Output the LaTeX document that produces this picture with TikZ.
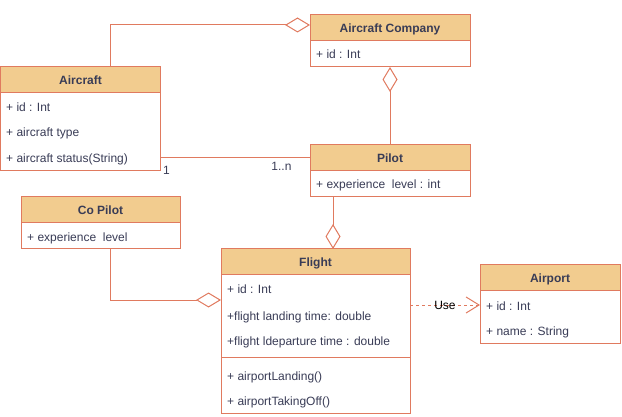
\documentclass[tikz,border=0pt]{standalone}
\usepackage{fontspec}
\setmainfont{Liberation Sans}
\usetikzlibrary{arrows.meta, positioning}
\definecolor{umlline}{HTML}{E07A5F}
\definecolor{umlfill}{HTML}{F2CC8F}
\definecolor{umltext}{HTML}{393C56}
\tikzset{
  clshead/.style={rectangle, draw=umlline, fill=umlfill, line width=1pt,
    outer sep=0pt, inner sep=0pt, minimum height=26pt, anchor=north west,
    text height=10pt, text depth=0pt, text=umltext,
    font=\fontsize{12}{14}\selectfont\bfseries},
  clsbody/.style={rectangle, draw=umlline, fill=white, line width=1pt,
    outer sep=0pt, inner sep=0pt},
  attr/.style={anchor=west, inner sep=0pt, text height=10pt, text depth=0pt,
    text=umltext, font=\fontsize{12}{14}\selectfont},
  link/.style={draw=umlline, line width=1pt},
  aggr/.style={link, -{Diamond[open, length=25pt, width=15pt]}},
  usedep/.style={link, dash pattern=on 3pt off 3pt,
    -{Straight Barb[length=13pt, width=16pt]}},
  mult/.style={inner sep=0pt, text=umltext, font=\fontsize{12}{14}\selectfont}
}

\begin{document}
\begin{tikzpicture}[x=1pt, y=-1pt]
  \useasboundingbox (0,0) rectangle (622,417);

  % classes
  \node[clshead, minimum width=160pt] (air) at (0.5,67) {Aircraft};
  \node[clsbody, minimum width=160pt, minimum height=78pt, below=0pt of air] (airb) {};
  \node[attr] (air1) at (6,107) {+ id : Int};
  \node[attr] (air2) at (6,132) {+ aircraft type};
  \node[attr] (air3) at (6,158) {+ aircraft status(String)};

  \node[clshead, minimum width=160pt] (co) at (310,15) {Aircraft Company};
  \node[clsbody, minimum width=160pt, minimum height=26pt, below=0pt of co] (cob) {};
  \node[attr] (co1) at (316,54) {+ id : Int};

  \node[clshead, minimum width=160pt] (pil) at (310,145) {Pilot};
  \node[clsbody, minimum width=160pt, minimum height=26pt, below=0pt of pil] (pilb) {};
  \node[attr] (pil1) at (316,184) {+ experience\ \ level : int};

  \node[clshead, minimum width=159pt] (cp) at (21,197) {Co Pilot};
  \node[clsbody, minimum width=159pt, minimum height=26pt, below=0pt of cp] (cpb) {};
  \node[attr] (cp1) at (27,237) {+ experience\ \ level};

  \node[clshead, minimum width=189pt] (fl) at (221,249) {Flight};
  \node[clsbody, minimum width=189pt, minimum height=82pt, below=0pt of fl] (flb) {};
  \node[clsbody, minimum width=189pt, minimum height=56pt, below=0pt of flb] (flm) {};
  \node[attr] (fl1) at (227,289) {+ id : Int};
  \node[attr] (fl2) at (227,315) {+flight landing time: double};
  \node[attr] (fl3) at (227,340) {+flight ldeparture time : double};
  \node[attr] (fl4) at (227,375) {+ airportLanding()};
  \node[attr] (fl5) at (227,400) {+ airportTakingOff()};

  \node[clshead, minimum width=140pt] (ap) at (480,265) {Airport};
  \node[clsbody, minimum width=140pt, minimum height=52pt, below=0pt of ap] (apb) {};
  \node[attr] (ap1) at (486,305) {+ id : Int};
  \node[attr] (ap2) at (486,330) {+ name : String};

  % relations
  \draw[aggr] ([xshift=30pt]air.north) |- ([yshift=3pt]co.west);
  \draw[aggr] (pil.north) -- (cob.south);
  \draw[link] (pil.west -| airb.east) -- (pil.west)
    node[pos=0, mult, anchor=north west, xshift=2pt, yshift=-8pt] (m1) {1}
    node[pos=1, mult, anchor=north east, xshift=-18pt, yshift=-4pt] (mn) {1..n};
  \coordinate (pf) at ([xshift=23pt]pilb.south west);
  \draw[aggr] (pf) -- (pf |- fl.north);
  \coordinate (cf) at ([xshift=10pt]cpb.south);
  \draw[aggr] (cf) |- ([yshift=16pt]flb.west);
  \draw[usedep] (flb.east |- ap1) -- (apb.west |- ap1)
    node[midway, mult, text=black] (use) {Use};
\end{tikzpicture}
\end{document}
